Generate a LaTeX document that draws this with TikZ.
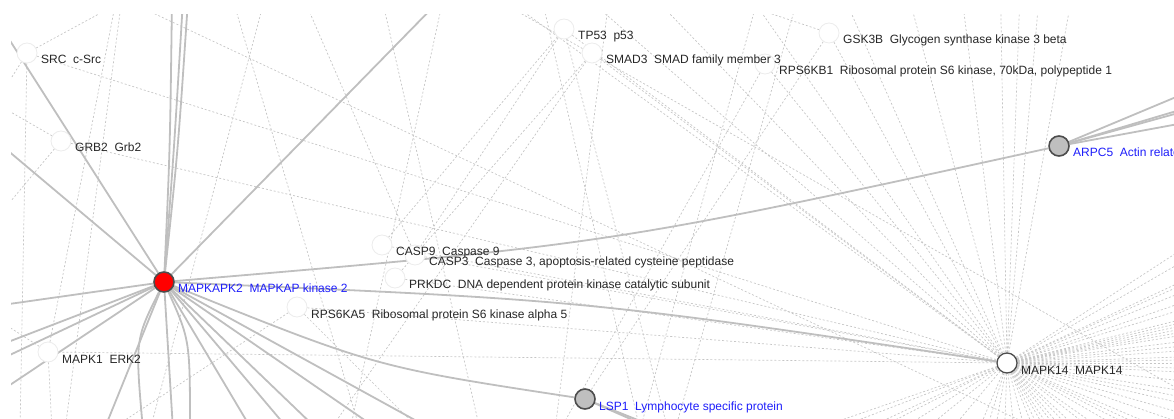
\documentclass[tikz,border=0pt]{standalone}
\usepackage{fontspec}
\setmainfont{Liberation Sans}
\usetikzlibrary{calc,backgrounds}
\definecolor{hitblue}{RGB}{30,30,250}
\tikzset{
  gene/.style={circle,inner sep=0pt,minimum size=20pt,fill=white,draw=gray!15,line width=0.8pt},
  hit/.style={gene,fill=gray!50,draw=black!70,line width=1.6pt},
  lbl/.style={anchor=base west,inner sep=0pt,text=black!85},
  hitlbl/.style={lbl,text=hitblue},
  link/.style={draw=gray!50,line width=1.8pt},
  nbr/.style={draw=gray!45,line width=0.7pt,dash pattern=on 2pt off 2pt}
}

\begin{document}
\begin{tikzpicture}[x=1pt,y=-1pt,font=\fontsize{12}{14}\selectfont]
\useasboundingbox (0,0) rectangle (1174,419);
% --- neighbour genes (plain circles)
\foreach \n/\x/\y in {src/27/53, grb2/61/141, tp53/564/29, smad3/592/53, s6kb1/765/64, gsk3b/829/33, casp9/382/245, casp3/415/255, prkdc/395/278, s6ka5/297/307, mapk1/48/352}
  \node[gene] (\n) at (\x,\y) {};
% --- query and hits
\node[gene,fill=red,draw=black!70,line width=1.6pt] (mk2) at (164,282) {};
\node[hit] (arpc5) at (1059,146) {};
\node[hit] (lsp1) at (585,399) {};
\node[gene,draw=black!70,line width=1.3pt] (mapk14) at (1007,363) {};
% --- labels, lower right of each circle
\foreach \n/\t in {src/{SRC~~c-Src}, grb2/{GRB2~~Grb2}, tp53/{TP53~~p53}, smad3/{SMAD3~~SMAD family member 3}, s6kb1/{RPS6KB1~~Ribosomal protein S6 kinase, 70kDa, polypeptide 1}, gsk3b/{GSK3B~~Glycogen synthase kinase 3 beta}, casp9/{CASP9~~Caspase 9}, casp3/{CASP3~~Caspase 3, apoptosis-related cysteine peptidase}, prkdc/{PRKDC~~DNA dependent protein kinase catalytic subunit}, s6ka5/{RPS6KA5~~Ribosomal protein S6 kinase alpha 5}, mapk1/{MAPK1~~ERK2}, mapk14/{MAPK14~~MAPK14}}
  \node[lbl] at ($(\n)+(14,11)$) {\t};
\node[hitlbl] at ($(mk2)+(14,11)$) {MAPKAPK2~~MAPKAP kinase 2};
\node[hitlbl] at ($(arpc5)+(14,11)$) {ARPC5~~Actin related protein 2/3 complex, subunit 5};
\node[hitlbl] at ($(lsp1)+(14,11)$) {LSP1~~Lymphocyte specific protein};

\begin{scope}[on background layer]
\clip (11,15) rectangle (1174,419);
% dashed neighbour links
\foreach \n in {src,grb2,tp53,smad3,s6kb1,gsk3b,casp9,casp3,prkdc,s6ka5,mapk1}
  \draw[nbr] (\n) -- (mapk14);
\foreach \a [count=\i] in {-144,-139,-134,-125,-114,-105,-97,-91,-88,-85,-80,-33,-30,-25,-24,-22,-19,-17,-14,-13,-12,-11,-10,-9,-7,-5.5,-4,-2,-1,0,1.7,3,5.8,9,11,13,16,19,23,25,27,30,35,38,43,46,50,53,57,60,64,68,75,84,92,100,107,113,130,141,148,153,155,159,161}
  {\coordinate (fan\i) at ($(mapk14)+(\a:900)$); \draw[nbr] (mapk14) -- (fan\i);}
\foreach \n/\x/\y [count=\i] in {src/143/-10, src/-5/104, src/20/430, grb2/-5/103, grb2/-5/220, mapk1/118/-10, mapk1/-5/318, mapk1/52/430, tp53/668/430, s6ka5/110/430, s6ka5/420/430, s6kb1/560/430, smad3/330/430, gsk3b/700/-10, casp3/300/-10}
  {\coordinate (nb\i) at (\x,\y); \draw[nbr] (\n) -- (nb\i);}
\draw[nbr] (gsk3b) -- (lsp1);
\draw[nbr] (tp53) -- (casp9);
\draw[nbr] (tp53) -- (casp3);
\draw[nbr] (smad3) -- (prkdc);
\foreach \ax/\ay/\bx/\by [count=\i] in {123/-10/65/430, 230/-10/360/430, 267/-10/150/430, 104/-10/1200/505, 380/-10/480/430, 445/-10/350/430, 480/-10/1250/430, 610/-10/555/430, 540/-10/640/430, 760/-10/640/430, 800/-10/675/430}
  {\coordinate (ra\i) at (\ax,\ay); \coordinate (rb\i) at (\bx,\by); \draw[nbr] (ra\i) -- (rb\i);}
% solid interaction links
\draw[link] (mk2) .. controls (611,244) .. (arpc5);
\draw[link] (mk2) .. controls (585,300) .. (mapk14);
\draw[link] (mk2) .. controls (375,367) .. (lsp1);
\foreach \x/\y [count=\i] in {0/25, 0/144, 440/0, -5/306, -5/347, -5/362, -5/395, 104/430, 173/430, 252/430, 289/430, 318/430, 379/430, 433/430}
  {\coordinate (mkout\i) at (\x,\y); \draw[link] (mk2) -- (mkout\i);}
\coordinate (mkc1) at (143,430); \draw[link] (mk2) .. controls (135,340) .. (mkc1);
\coordinate (mkc2) at (190,430); \draw[link] (mk2) .. controls (190,340) .. (mkc2);
\foreach \x/\c [count=\i] in {172/170, 183/174, 188/178}
  {\coordinate (mkup\i) at (\x,0); \draw[link] (mk2) .. controls (\c,150) .. (mkup\i);}
\foreach \y [count=\i] in {87,104,107,120}
  {\coordinate (arout\i) at (1200,\y); \draw[link] (arpc5) -- (arout\i);}
\foreach \x [count=\i] in {660,668}
  {\coordinate (lsout\i) at (\x,432); \draw[link] (lsp1) -- (lsout\i);}
\end{scope}
\end{tikzpicture}
\end{document}
